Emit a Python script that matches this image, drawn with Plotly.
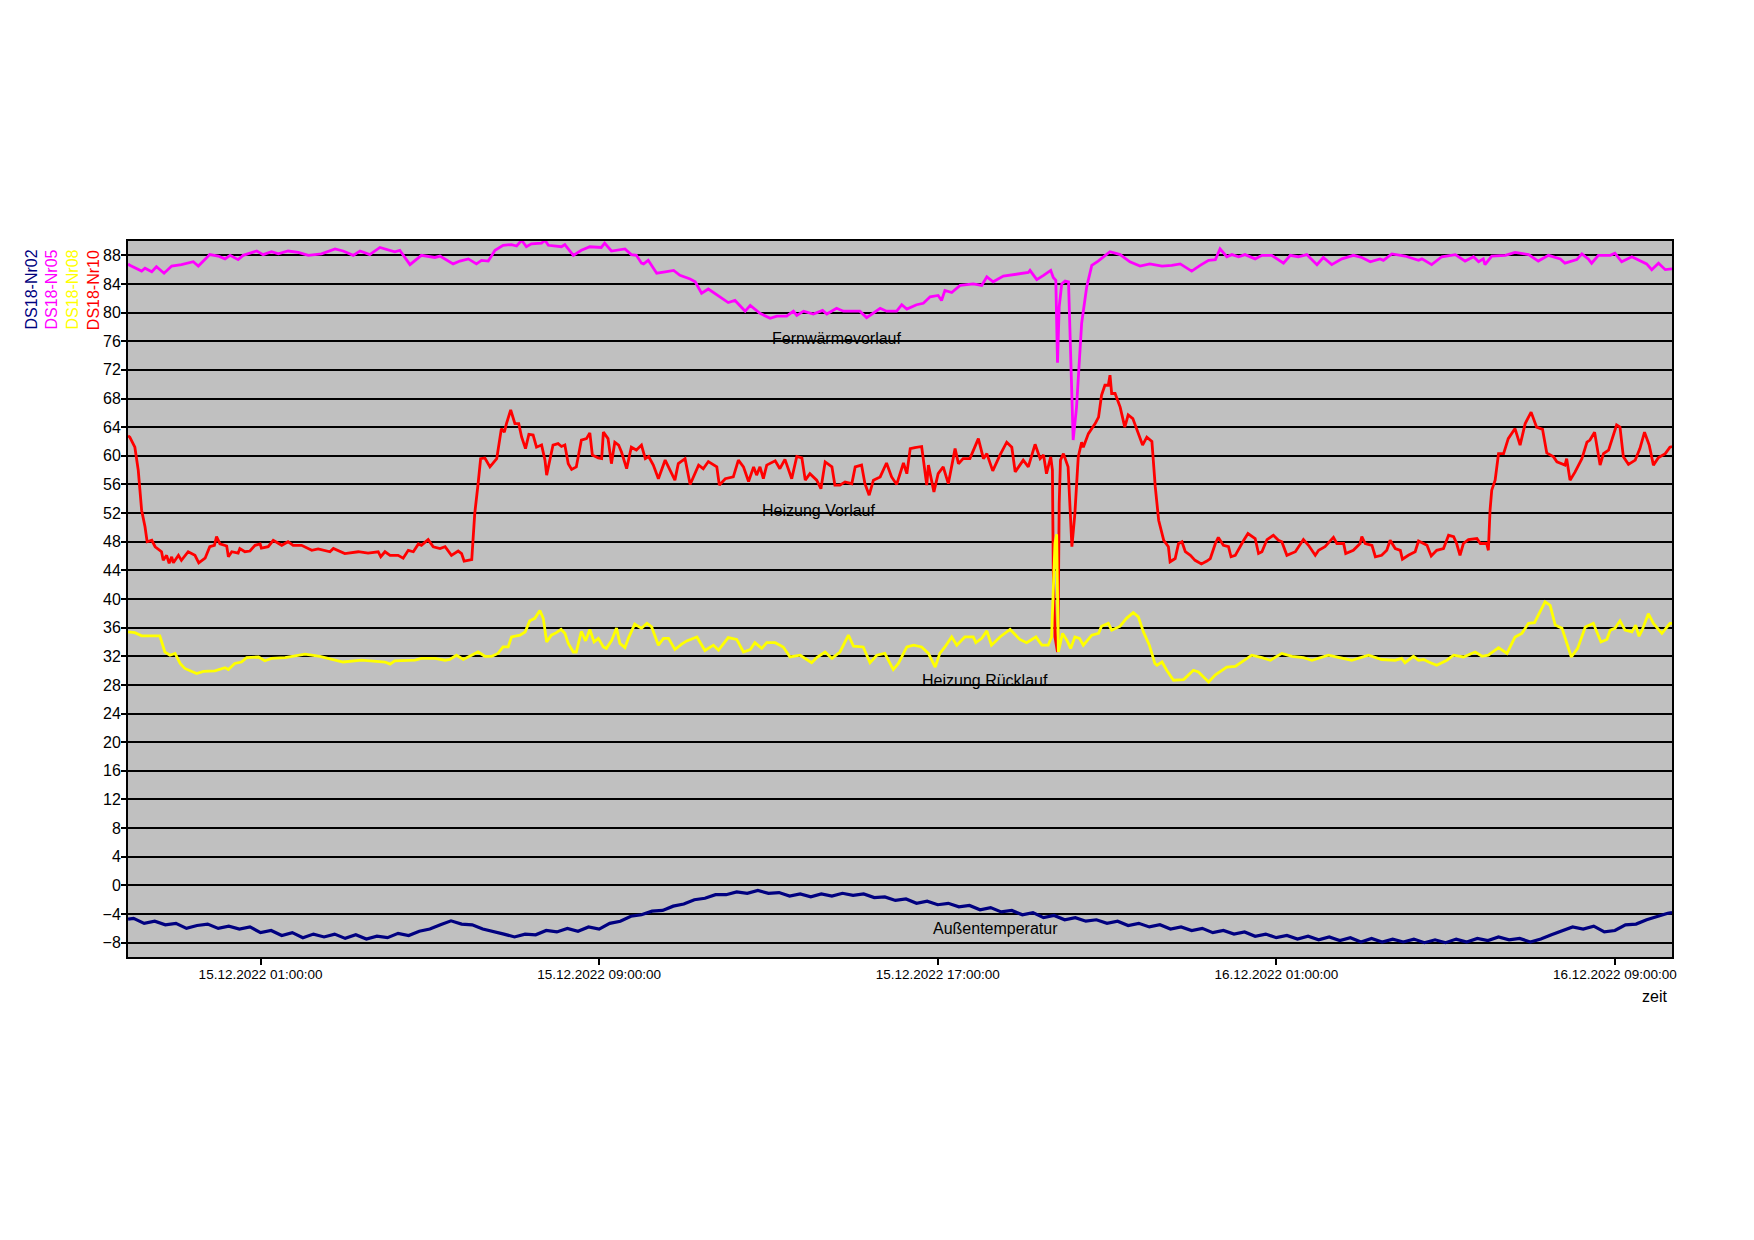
import pandas as pd
import plotly.graph_objects as go

BASE = pd.Timestamp("2022-12-15 00:00:00")

# ---- DS18-Nr05 : Fernwärmevorlauf (hours after 15.12.2022 00:00, °C)
nr05_h = [-2.13, -2.09, -1.81, -1.73, -1.57, -1.46, -1.28, -1.10, -0.87, -0.75, -0.59, -0.47, -0.20, 0.00, 0.16, 0.28,
          0.47, 0.59, 0.91, 1.06, 1.26, 1.42, 1.65, 1.89, 2.13, 2.44, 2.76, 2.95, 3.19, 3.35, 3.58, 3.82, 4.17, 4.29,
          4.53, 4.80, 5.12, 5.24, 5.55, 5.71, 5.91, 6.10, 6.22, 6.38, 6.54, 6.73, 6.93, 7.05, 7.17, 7.28, 7.40, 7.64,
          7.72, 7.80, 8.11, 8.19, 8.39, 8.58, 8.78, 9.05, 9.13, 9.29, 9.61, 9.76, 9.88, 10.00, 10.05, 10.16, 10.36,
          10.56, 10.76, 10.91, 11.15, 11.27, 11.42, 11.58, 11.86, 12.05, 12.21, 12.45, 12.57, 12.80, 13.04, 13.20,
          13.43, 13.59, 13.67, 13.83, 14.06, 14.28, 14.38, 14.61, 14.77, 15.01, 15.16, 15.32, 15.48, 15.64, 15.79,
          16.03, 16.15, 16.27, 16.50, 16.66, 16.82, 17.01, 17.09, 17.17, 17.33, 17.53, 17.84, 18.04, 18.16, 18.31,
          18.55, 18.87, 19.14, 19.18, 19.34, 19.50, 19.67, 19.73, 19.79, 19.83, 19.87, 19.93, 20.01, 20.09, 20.13,
          20.20, 20.28, 20.40, 20.52, 20.64, 20.79, 21.07, 21.31, 21.54, 21.78, 22.01, 22.30, 22.53, 22.73, 23.00,
          23.20, 23.40, 23.56, 23.67, 23.83, 23.95, 24.11, 24.26, 24.50, 24.66, 24.89, 25.17, 25.33, 25.52, 25.72,
          25.96, 26.11, 26.31, 26.55, 26.82, 27.02, 27.22, 27.45, 27.53, 27.73, 28.04, 28.36, 28.44, 28.67, 28.91,
          29.23, 29.46, 29.66, 29.78, 29.89, 29.93, 30.09, 30.41, 30.64, 30.96, 31.19, 31.43, 31.71, 31.82, 32.10,
          32.22, 32.37, 32.45, 32.61, 32.89, 33.00, 33.16, 33.40, 33.63, 33.75, 33.87, 34.03, 34.19, 34.35]
nr05_v = [86.8, 86.6, 85.8, 86.2, 85.7, 86.4, 85.5, 86.5, 86.7, 86.9, 87.1, 86.5, 88.1, 87.9, 87.5, 88.0,
          87.4, 88.0, 88.6, 88.1, 88.5, 88.2, 88.6, 88.4, 88.0, 88.2, 88.9, 88.6, 88.0, 88.6, 88.1, 89.1, 88.5, 88.7,
          86.7, 88.0, 87.7, 87.9, 86.8, 87.2, 87.5, 86.8, 87.3, 87.2, 88.7, 89.4, 89.5, 89.3, 90.1, 89.2, 89.6, 89.7,
          90.1, 89.4, 89.2, 89.5, 88.0, 88.7, 89.2, 89.1, 89.7, 88.6, 88.9, 88.1, 88.0, 86.9, 86.8, 87.3, 85.5,
          85.7, 85.9, 85.2, 84.7, 84.3, 82.7, 83.3, 82.2, 81.4, 81.7, 80.2, 81.0, 79.9, 79.2, 79.5,
          79.5, 80.2, 79.6, 80.2, 79.8, 80.3, 79.8, 80.6, 80.2, 80.2, 80.2, 79.3, 79.9, 80.6, 80.2,
          80.2, 81.1, 80.5, 81.1, 81.3, 82.2, 82.4, 81.7, 83.1, 82.8, 83.8, 84.0, 83.8, 85.0, 84.3,
          85.1, 85.4, 85.6, 85.9, 84.6, 85.2, 85.9, 84.9, 84.5, 73.0, 80.8, 84.0, 84.4, 84.3, 76.1,
          62.2, 66.8, 78.5, 83.6, 86.6, 87.2, 88.5, 88.1, 87.1, 86.5, 86.8, 86.5, 86.6, 86.8, 85.8,
          86.6, 87.3, 87.4, 88.9, 87.8, 88.1, 87.8, 88.1, 87.5, 88.0, 88.0, 86.9, 88.0, 87.8, 88.1,
          86.7, 87.7, 86.7, 87.5, 88.0, 87.7, 87.1, 87.5, 87.3, 88.2, 87.9, 87.3, 87.5, 86.7, 87.8,
          88.1, 87.2, 87.8, 87.1, 87.5, 86.7, 87.9, 88.0, 88.4, 88.1, 87.2, 88.0, 87.5, 86.9, 87.4,
          88.2, 87.5, 86.9, 88.0, 88.0, 88.3, 87.1, 87.8, 87.1, 86.8, 86.0, 86.9, 86.0, 86.1]

# ---- DS18-Nr10 : Heizung Vorlauf
nr10_h = [-2.13, -2.09, -1.97, -1.89, -1.81, -1.73, -1.68, -1.57, -1.49, -1.34, -1.30, -1.22, -1.16, -1.10, -1.06,
          -0.94, -0.87, -0.71, -0.55, -0.46, -0.31, -0.20, -0.09, -0.04, 0.04, 0.20, 0.24, 0.32, 0.47, 0.51, 0.63,
          0.75, 0.87, 0.99, 1.02, 1.18, 1.30, 1.50, 1.65, 1.77, 1.97, 2.21, 2.36, 2.64, 2.72, 2.99, 3.31, 3.54,
          3.78, 3.84, 3.94, 4.06, 4.25, 4.37, 4.49, 4.61, 4.73, 4.80, 4.96, 5.08, 5.24, 5.36, 5.51, 5.67, 5.75,
          5.81, 5.99, 6.02, 6.06, 6.14, 6.20, 6.30, 6.42, 6.58, 6.69, 6.76, 6.81, 6.91, 7.01, 7.10, 7.17, 7.26,
          7.34, 7.44, 7.52, 7.64, 7.72, 7.76, 7.84, 7.91, 8.03, 8.11, 8.19, 8.27, 8.35, 8.46, 8.58, 8.70, 8.78,
          8.84, 8.98, 9.06, 9.10, 9.21, 9.29, 9.37, 9.46, 9.53, 9.65, 9.76, 9.88, 10.00, 10.09, 10.17, 10.28,
          10.40, 10.56, 10.68, 10.79, 10.87, 11.03, 11.15, 11.35, 11.46, 11.58, 11.78, 11.84, 11.98, 12.17, 12.29,
          12.41, 12.53, 12.65, 12.72, 12.80, 12.88, 12.96, 13.16, 13.27, 13.39, 13.55, 13.67, 13.79, 13.87, 13.98,
          14.14, 14.24, 14.34, 14.50, 14.57, 14.69, 14.81, 14.97, 15.05, 15.20, 15.28, 15.38, 15.48, 15.64, 15.79,
          15.91, 16.03, 16.19, 16.27, 16.35, 16.46, 16.62, 16.74, 16.78, 16.91, 17.01, 17.13, 17.25, 17.41, 17.49,
          17.60, 17.76, 17.96, 18.08, 18.16, 18.30, 18.47, 18.63, 18.75, 18.83, 18.94, 19.02, 19.14, 19.30, 19.42,
          19.50, 19.57, 19.67, 19.71, 19.73, 19.77, 19.83, 19.85, 19.87, 19.90, 19.97, 20.08, 20.12, 20.17, 20.24,
          20.32, 20.40, 20.44, 20.56, 20.72, 20.80, 20.87, 20.95, 21.03, 21.07, 21.11, 21.19, 21.31, 21.42, 21.50,
          21.61, 21.70, 21.84, 21.94, 22.06, 22.14, 22.22, 22.34, 22.45, 22.49, 22.61, 22.69, 22.77, 22.85, 22.97,
          23.08, 23.23, 23.36, 23.44, 23.56, 23.63, 23.75, 23.87, 23.93, 24.03, 24.23, 24.33, 24.50, 24.58, 24.66,
          24.78, 24.93, 25.05, 25.13, 25.25, 25.45, 25.64, 25.76, 25.92, 26.00, 26.15, 26.35, 26.43, 26.59, 26.64,
          26.82, 26.98, 27.02, 27.10, 27.26, 27.34, 27.49, 27.61, 27.69, 27.81, 27.93, 27.98, 28.12, 28.28, 28.36,
          28.56, 28.66, 28.79, 28.95, 29.07, 29.19, 29.26, 29.34, 29.42, 29.54, 29.74, 29.82, 29.97, 30.01, 30.05,
          30.09, 30.17, 30.25, 30.37, 30.48, 30.64, 30.76, 30.88, 31.02, 31.15, 31.29, 31.39, 31.55, 31.63, 31.82,
          31.86, 31.94, 32.06, 32.22, 32.34, 32.41, 32.52, 32.65, 32.73, 32.85, 32.96, 33.04, 33.12, 33.20, 33.32,
          33.48, 33.59, 33.70, 33.81, 33.91, 34.03, 34.19, 34.30, 34.35]
nr10_v = [62.8, 62.6, 61.2, 58.0, 52.4, 50.1, 48.0, 48.2, 47.3, 46.6, 45.4, 46.1, 45.0, 45.9, 45.05,
          46.1, 45.4, 46.6, 46.1, 45.05, 45.7, 47.3, 47.5, 48.7, 47.7, 47.4, 45.9, 46.6, 46.4, 47.05, 46.6,
          46.7, 47.5, 47.7, 47.1, 47.3, 48.2, 47.5, 48.0, 47.5, 47.5, 46.8, 47.0, 46.6, 47.05, 46.35, 46.6, 46.4,
          46.6, 45.9, 46.6, 46.1, 46.1, 45.7, 46.8, 46.6, 47.7, 47.5, 48.3, 47.3, 47.05, 47.3, 46.1, 46.7, 46.35,
          45.3, 45.5, 48.7, 51.9, 56.1, 59.6, 59.7, 58.45, 59.6, 63.8, 63.3, 64.5, 66.4, 64.5, 64.5, 62.6, 61.0,
          63.0, 62.9, 61.2, 61.5, 59.4, 57.3, 59.4, 61.5, 61.7, 61.3, 61.5, 58.9, 58.1, 58.45, 62.2, 62.4, 63.2,
          60.1, 59.7, 59.6, 63.3, 62.4, 58.9, 61.9, 61.5, 60.5, 58.2, 61.2, 60.8, 61.5, 59.6, 59.9, 58.7,
          56.8, 59.4, 58.0, 56.6, 58.9, 59.6, 56.0, 58.7, 58.2, 59.2, 58.45, 55.9, 56.8, 57.05, 59.4,
          58.45, 56.4, 58.45, 57.3, 58.45, 56.8, 58.7, 59.3, 58.2, 59.5, 56.8, 59.9, 59.7, 56.6, 57.5,
          56.6, 55.4, 59.15, 58.45, 55.9, 55.9, 56.35, 56.1, 58.45, 58.7, 56.1, 54.5, 56.6, 57.05, 59.0,
          57.05, 56.0, 59.0, 57.5, 61.0, 61.15, 61.3, 55.9, 58.7, 54.96, 57.5, 58.45, 56.1, 61.0, 58.9,
          59.6, 59.6, 62.4, 59.6, 60.3, 57.9, 60.1, 61.9, 61.2, 57.75, 58.7, 59.4, 58.45, 61.6, 59.6,
          60.1, 57.5, 59.85, 58.0, 44.0, 34.7, 32.6, 39.4, 53.3, 59.4, 60.3, 58.45, 53.3, 47.3, 51.9,
          59.85, 61.9, 61.2, 63.1, 64.5, 65.4, 68.45, 69.85, 69.85, 71.25, 68.7, 68.7, 66.8, 64.0, 65.7,
          65.2, 63.8, 61.5, 62.6, 62.0, 55.65, 51.0, 48.2, 47.3, 45.2, 45.65, 47.75, 48.0, 46.6, 46.1,
          45.4, 44.9, 45.3, 45.65, 47.75, 48.6, 47.5, 47.3, 45.9, 46.1, 48.2, 49.15, 48.45, 46.35, 46.6,
          48.3, 48.9, 48.2, 48.0, 46.1, 46.6, 48.3, 47.5, 46.1, 46.8, 47.3, 48.6, 47.75, 47.75, 46.35,
          46.8, 47.75, 48.7, 47.75, 47.5, 45.9, 46.1, 46.8, 48.2, 47.05, 46.8, 45.55, 46.1, 46.6, 48.1,
          47.5, 46.0, 46.8, 47.05, 48.9, 48.7, 47.75, 46.1, 47.75, 48.3, 48.45, 47.75, 47.75, 46.8, 52.4,
          55.2, 56.6, 60.3, 60.3, 62.4, 63.8, 61.5, 64.5, 66.1, 64.0, 63.7, 60.4, 59.85, 59.15, 58.7,
          59.6, 56.6, 57.75, 59.6, 61.9, 62.2, 63.3, 58.7, 60.3, 60.8, 62.9, 64.3, 64.0, 59.85, 58.8,
          59.4, 61.0, 63.3, 61.5, 58.7, 59.75, 60.3, 61.2, 61.3]

# ---- DS18-Nr08 : Heizung Rücklauf
nr08_h = [-2.13, -1.97, -1.81, -1.38, -1.26, -1.14, -1.02, -0.90, -0.79, -0.51, -0.35, -0.08, 0.16, 0.24, 0.39,
          0.55, 0.67, 0.95, 1.10, 1.26, 1.58, 1.81, 2.05, 2.40, 2.68, 2.95, 3.39, 3.94, 4.06, 4.17, 4.65, 4.80,
          5.12, 5.36, 5.47, 5.63, 5.79, 5.99, 6.14, 6.30, 6.46, 6.61, 6.73, 6.85, 6.93, 7.13, 7.25, 7.36, 7.48,
          7.60, 7.68, 7.76, 7.87, 7.99, 8.10, 8.19, 8.27, 8.39, 8.46, 8.58, 8.68, 8.78, 8.88, 8.98, 9.10, 9.17,
          9.29, 9.41, 9.49, 9.61, 9.69, 9.84, 10.00, 10.13, 10.24, 10.40, 10.52, 10.64, 10.79, 10.95, 11.07, 11.31,
          11.50, 11.70, 11.82, 12.05, 12.25, 12.41, 12.57, 12.68, 12.84, 12.96, 13.16, 13.35, 13.51, 13.75, 14.02,
          14.14, 14.34, 14.50, 14.69, 14.89, 15.01, 15.24, 15.40, 15.56, 15.75, 15.95, 16.07, 16.27, 16.43, 16.62,
          16.78, 16.94, 17.05, 17.17, 17.33, 17.45, 17.64, 17.84, 17.90, 18.04, 18.16, 18.27, 18.47, 18.71, 18.94,
          19.10, 19.32, 19.46, 19.61, 19.69, 19.77, 19.81, 19.85, 19.95, 20.05, 20.14, 20.24, 20.35, 20.44, 20.64,
          20.80, 20.87, 21.03, 21.11, 21.31, 21.46, 21.62, 21.74, 21.86, 22.00, 22.13, 22.18, 22.30, 22.41, 22.57,
          22.81, 23.04, 23.16, 23.40, 23.56, 23.83, 24.03, 24.23, 24.42, 24.66, 24.86, 25.13, 25.37, 25.64, 25.84,
          26.23, 26.55, 26.78, 27.18, 27.49, 27.81, 27.96, 28.04, 28.24, 28.36, 28.48, 28.60, 28.79, 29.03, 29.19,
          29.42, 29.70, 29.86, 30.01, 30.25, 30.45, 30.64, 30.80, 30.96, 31.10, 31.35, 31.47, 31.59, 31.75, 31.97,
          32.12, 32.30, 32.49, 32.67, 32.81, 32.89, 33.00, 33.12, 33.24, 33.40, 33.49, 33.57, 33.65, 33.79, 33.91,
          34.11, 34.30, 34.35]
nr08_v = [35.4, 35.3, 34.85, 34.85, 32.6, 32.15, 32.4, 31.0, 30.3, 29.6, 29.9, 29.97, 30.4, 30.15, 31.0,
          31.2, 31.8, 31.9, 31.37, 31.7, 31.8, 32.0, 32.3, 32.0, 31.55, 31.2, 31.45, 31.2, 30.9, 31.37, 31.45, 31.7,
          31.7, 31.45, 31.55, 32.15, 31.55, 32.15, 32.6, 32.0, 32.0, 32.4, 33.3, 33.3, 34.7, 34.95, 35.4, 36.95, 37.3,
          38.4, 37.3, 34.0, 34.95, 35.3, 35.75, 35.2, 33.8, 32.6, 32.6, 35.5, 34.15, 35.75, 34.0, 34.5, 33.3, 33.1,
          34.15, 35.95, 33.8, 33.2, 34.5, 36.5, 35.9, 36.6, 36.1, 33.55, 34.5, 34.5, 32.95, 33.7, 34.15, 34.7,
          32.8, 33.55, 32.85, 34.6, 34.35, 32.6, 32.95, 33.9, 33.1, 33.9, 33.9, 33.3, 31.9, 32.15, 31.1,
          31.8, 32.6, 31.7, 32.6, 34.95, 33.4, 33.3, 31.1, 32.15, 32.4, 30.15, 31.0, 33.3, 33.55, 33.3,
          32.4, 30.5, 32.4, 33.3, 34.7, 33.55, 34.7, 34.7, 33.9, 34.5, 35.55, 33.55, 34.7, 35.75, 34.35,
          33.9, 34.7, 33.55, 33.55, 34.7, 47.75, 49.05, 32.6, 35.2, 34.25, 33.1, 34.7, 34.5, 33.55, 34.95,
          35.2, 36.2, 36.6, 35.65, 36.2, 37.3, 38.1, 37.5, 35.4, 33.55, 31.0, 30.75, 31.2, 30.05, 28.65,
          28.75, 30.05, 29.8, 28.4, 29.4, 30.5, 30.6, 31.45, 32.15, 31.8, 31.45, 32.4, 32.0, 31.8, 31.45,
          32.15, 31.8, 31.45, 32.15, 31.55, 31.45, 31.7, 31.1, 32.0, 31.45, 31.55, 31.2, 30.75, 31.45, 32.15,
          31.9, 32.6, 32.0, 32.15, 33.2, 32.4, 34.7, 35.2, 36.6, 36.7, 39.6, 39.1, 36.35, 35.9, 31.9,
          33.1, 36.1, 36.6, 34.0, 34.35, 35.65, 35.9, 36.95, 35.65, 35.4, 36.35, 34.8, 35.75, 37.95, 36.6,
          35.2, 36.6, 36.6]

# ---- DS18-Nr02 : Außentemperatur
nr02_h = [-2.13, -2.00, -1.75, -1.50, -1.25, -1.00, -0.75, -0.50, -0.25, 0.00, 0.25, 0.50, 0.75, 1.00, 1.25, 1.50,
          1.75, 2.00, 2.25, 2.50, 2.75, 3.00, 3.25, 3.50, 3.75, 4.00, 4.25, 4.50, 4.75, 5.00, 5.25, 5.50, 5.75,
          6.00, 6.25, 6.50, 6.75, 7.00, 7.25, 7.50, 7.75, 8.00, 8.25, 8.50, 8.75, 9.00, 9.25, 9.50, 9.75, 10.00,
          10.25, 10.50, 10.75, 11.00, 11.25, 11.50, 11.75, 12.00, 12.25, 12.50, 12.75, 13.00, 13.25, 13.50, 13.75,
          14.00, 14.25, 14.50, 14.75, 15.00, 15.25, 15.50, 15.75, 16.00, 16.25, 16.50, 16.75, 17.00, 17.25, 17.50,
          17.75, 18.00, 18.25, 18.50, 18.75, 19.00, 19.25, 19.50, 19.75, 20.00, 20.25, 20.50, 20.75, 21.00, 21.25,
          21.50, 21.75, 22.00, 22.25, 22.50, 22.75, 23.00, 23.25, 23.50, 23.75, 24.00, 24.25, 24.50, 24.75, 25.00,
          25.25, 25.50, 25.75, 26.00, 26.25, 26.50, 26.75, 27.00, 27.25, 27.50, 27.75, 28.00, 28.25, 28.50, 28.75,
          29.00, 29.25, 29.50, 29.75, 30.00, 30.25, 30.50, 30.75, 31.00, 31.25, 31.50, 31.75, 32.00, 32.25, 32.50,
          32.75, 33.00, 33.25, 33.50, 33.75, 34.00, 34.25, 34.35]
nr02_v = [-4.7, -4.6, -5.3, -5.0, -5.5, -5.3, -6.0, -5.6, -5.4, -6.0, -5.7, -6.1, -5.8, -6.6, -6.3, -7.0,
          -6.6, -7.3, -6.8, -7.2, -6.8, -7.4, -6.9, -7.5, -7.1, -7.3, -6.7, -7.0, -6.4, -6.1, -5.5, -4.95, -5.4,
          -5.5, -6.1, -6.4, -6.8, -7.2, -6.8, -6.9, -6.3, -6.5, -6.0, -6.4, -5.8, -6.1, -5.3, -5.0, -4.3, -4.1,
          -3.6, -3.5, -2.9, -2.6, -2.0, -1.8, -1.3, -1.3, -0.9, -1.1, -0.7, -1.1, -1.0, -1.5, -1.2,
          -1.6, -1.2, -1.5, -1.1, -1.4, -1.2, -1.7, -1.6, -2.1, -1.9, -2.5, -2.2, -2.7, -2.5, -3.0,
          -2.8, -3.4, -3.1, -3.7, -3.5, -4.1, -3.8, -4.5, -4.2, -4.8, -4.5, -5.0, -4.8, -5.3, -5.0,
          -5.6, -5.3, -5.8, -5.5, -6.1, -5.8, -6.3, -6.0, -6.6, -6.3, -6.8, -6.5, -7.1, -6.8, -7.3,
          -7.0, -7.5, -7.1, -7.6, -7.2, -7.7, -7.3, -7.9, -7.4, -7.9, -7.5, -7.9, -7.5, -8.0, -7.6,
          -8.0, -7.5, -7.9, -7.4, -7.7, -7.2, -7.6, -7.4, -7.9, -7.5, -6.9, -6.4, -5.8, -6.1, -5.7,
          -6.5, -6.3, -5.5, -5.4, -4.8, -4.3, -3.9, -3.8]

# ---- axes
y_ticks = [-8, -4, 0, 4, 8, 12, 16, 20, 24, 28, 32, 36, 40, 44, 48, 52, 56, 60, 64, 68, 72, 76, 80, 84, 88]
x_tickvals = ["2022-12-15 01:00:00", "2022-12-15 09:00:00", "2022-12-15 17:00:00",
              "2022-12-16 01:00:00", "2022-12-16 09:00:00"]
x_ticktext = ["15.12.2022 01:00:00", "15.12.2022 09:00:00", "15.12.2022 17:00:00",
              "16.12.2022 01:00:00", "16.12.2022 09:00:00"]
x_range_h = [-2.132, 34.349]

series_names = ["DS18-Nr02", "DS18-Nr05", "DS18-Nr08", "DS18-Nr10"]
series_colors = ["#000080", "#FF00FF", "#FFFF00", "#FF0000"]
labels = ["Fernwärmevorlauf", "Heizung Vorlauf", "Heizung Rücklauf", "Außentemperatur"]


def to_time(hours):
    return BASE + pd.to_timedelta(hours, unit="h")


FONT = "Liberation Sans, Arial, sans-serif"

fig = go.Figure()
data = {
    "DS18-Nr02": (nr02_h, nr02_v),
    "DS18-Nr05": (nr05_h, nr05_v),
    "DS18-Nr10": (nr10_h, nr10_v),
    "DS18-Nr08": (nr08_h, nr08_v),
}
widths = {"DS18-Nr02": 3.2, "DS18-Nr05": 2.8, "DS18-Nr10": 2.8, "DS18-Nr08": 2.8}
for name in ["DS18-Nr02", "DS18-Nr05", "DS18-Nr10", "DS18-Nr08"]:
    h, v = data[name]
    fig.add_trace(go.Scatter(
        x=to_time(h), y=v, mode="lines", name=name,
        line=dict(color=series_colors[series_names.index(name)], width=widths[name]),
        showlegend=False,
    ))

# rotated legend labels at left
legend_x = [-0.0625, -0.0495, -0.0359, -0.0219]
for name, col, lx in zip(series_names, series_colors, legend_x):
    fig.add_annotation(xref="paper", yref="paper", x=lx, y=0.9316, text=name, textangle=-90,
                       showarrow=False, font=dict(family=FONT, size=16, color=col),
                       xanchor="center", yanchor="middle")

label_pos = [(0.4589, 0.8645), (0.4473, 0.6233), (0.5551, 0.3859), (0.5619, 0.0398)]
for txt, (lx, ly) in zip(labels, label_pos):
    fig.add_annotation(xref="paper", yref="paper", x=lx, y=ly, text=txt, showarrow=False,
                       font=dict(family=FONT, size=16, color="black"),
                       xanchor="center", yanchor="middle")

fig.add_annotation(xref="paper", yref="paper", x=0.9888, y=-0.0545, text="zeit", showarrow=False,
                   font=dict(family=FONT, size=16, color="black"), xanchor="center", yanchor="middle")

# page body adds an 8px margin, so the figure is sized to fit inside it
fig.update_layout(
    width=1738, height=1224,
    margin=dict(l=120, r=74, t=233, b=275),
    paper_bgcolor="white",
    plot_bgcolor="#C0C0C0",
    font=dict(family=FONT, color="black"),
    showlegend=False,
)
fig.update_xaxes(
    type="date",
    range=[to_time(x_range_h[0]), to_time(x_range_h[1])],
    tickvals=x_tickvals, ticktext=x_ticktext,
    tickfont=dict(family=FONT, size=13.5, color="black"),
    showgrid=False, zeroline=False,
    showline=True, linecolor="black", linewidth=2, mirror=True,
    ticks="outside", ticklen=6, tickwidth=2, tickcolor="black",
    ticklabelstandoff=-2,
)
fig.update_yaxes(
    range=[-10, 90],
    tickvals=y_ticks,
    tickfont=dict(family=FONT, size=16, color="black"),
    showgrid=True, gridcolor="black", gridwidth=2,
    zeroline=False,
    showline=True, linecolor="black", linewidth=2, mirror=True,
    ticks="outside", ticklen=5, tickwidth=2, tickcolor="black",
    ticklabelstandoff=-3,
)

fig.write_html("out.html")
